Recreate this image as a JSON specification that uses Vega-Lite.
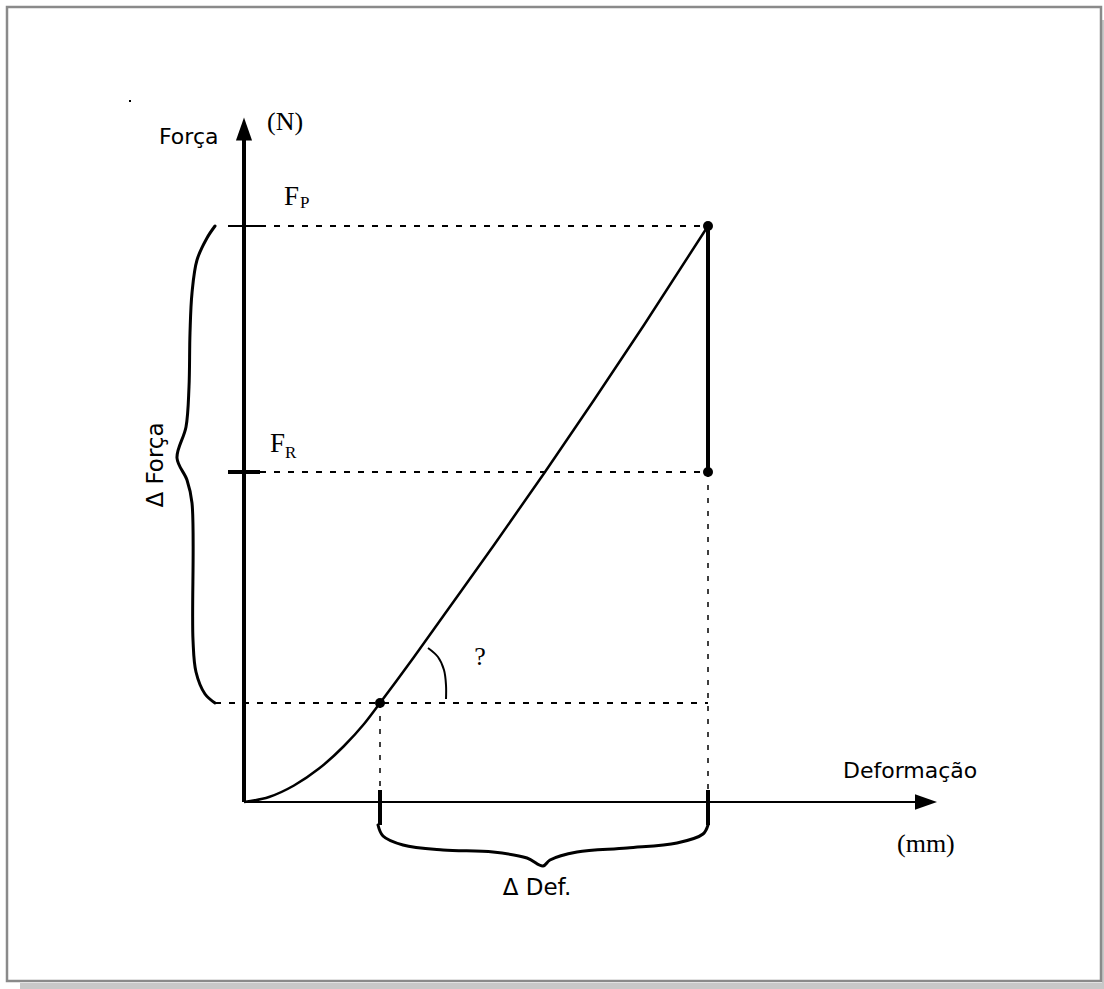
{
  "$schema": "https://vega.github.io/schema/vega-lite/v6.json",
  "width": 1104,
  "height": 989,
  "padding": 0,
  "autosize": {"type": "fit", "contains": "padding"},
  "background": "white",
  "config": {"view": {"stroke": null}},
  "datasets": {
    "shadow": [{"x": -224, "x2": 860, "y": -181, "y2": -187}, {"x": 858, "x2": 860, "y": 782, "y2": -187}],
    "frame": [{"x": -237, "x2": 857, "y": 795, "y2": -179}],
    "dashH": [{"x": 16, "x2": 464, "y": 576, "y2": 576}, {"x": 16, "x2": 464, "y": 330, "y2": 330}, {"x": -29, "x2": 464, "y": 99, "y2": 99}],
    "dashV": [{"x": 136, "x2": 136, "y": 99, "y2": 12}, {"x": 464, "x2": 464, "y": 330, "y2": 12}],
    "thick": [{"x": 0, "x2": 0, "y": 0, "y2": 662}, {"x": -16, "x2": 16, "y": 330, "y2": 330}, {"x": 136, "x2": 136, "y": 12, "y2": -23}, {"x": 464, "x2": 464, "y": 12, "y2": -23}, {"x": 464, "x2": 464, "y": 330, "y2": 576}],
    "thin": [{"x": 0, "x2": 671, "y": 0, "y2": 0}, {"x": -16, "x2": 16, "y": 576, "y2": 576}],
    "curve": [{"x": 0, "y": 0}, {"x": 25, "y": 5}, {"x": 50, "y": 16.5}, {"x": 75, "y": 33.4}, {"x": 100, "y": 56}, {"x": 120, "y": 78}, {"x": 136, "y": 99}, {"x": 170, "y": 145}, {"x": 200, "y": 187}, {"x": 250, "y": 257}, {"x": 301, "y": 330}, {"x": 350, "y": 402}, {"x": 400, "y": 477}, {"x": 464, "y": 576}],
    "braces": [
      {"b": "left", "i": 0, "x": -29, "y": 576}, {"b": "left", "i": 1, "x": -37, "y": 564}, {"b": "left", "i": 2, "x": -47, "y": 542}, {"b": "left", "i": 3, "x": -52, "y": 509}, {"b": "left", "i": 4, "x": -54, "y": 469}, {"b": "left", "i": 5, "x": -55, "y": 415}, {"b": "left", "i": 6, "x": -58, "y": 375}, {"b": "left", "i": 7, "x": -67, "y": 344}, {"b": "left", "i": 8, "x": -57, "y": 322}, {"b": "left", "i": 9, "x": -52, "y": 299}, {"b": "left", "i": 10, "x": -51, "y": 162}, {"b": "left", "i": 11, "x": -48, "y": 130}, {"b": "left", "i": 12, "x": -39, "y": 108}, {"b": "left", "i": 13, "x": -29, "y": 99},
      {"b": "bottom", "i": 0, "x": 134, "y": -23}, {"b": "bottom", "i": 1, "x": 139, "y": -34}, {"b": "bottom", "i": 2, "x": 159, "y": -43}, {"b": "bottom", "i": 3, "x": 199, "y": -48}, {"b": "bottom", "i": 4, "x": 249, "y": -50}, {"b": "bottom", "i": 5, "x": 283, "y": -56}, {"b": "bottom", "i": 6, "x": 299, "y": -64}, {"b": "bottom", "i": 7, "x": 306, "y": -58}, {"b": "bottom", "i": 8, "x": 333, "y": -50}, {"b": "bottom", "i": 9, "x": 383, "y": -46}, {"b": "bottom", "i": 10, "x": 433, "y": -41}, {"b": "bottom", "i": 11, "x": 459, "y": -32}, {"b": "bottom", "i": 12, "x": 464, "y": -23}
    ],
    "arc": [{"i": 0, "x": 184, "y": 154}, {"i": 1, "x": 194, "y": 145}, {"i": 2, "x": 200, "y": 132}, {"i": 3, "x": 202, "y": 117}, {"i": 4, "x": 202, "y": 103}],
    "arrowUp": [{"x": 0, "y": 673}],
    "arrowRight": [{"x": 682, "y": 0}],
    "dots": [{"x": 464, "y": 576}, {"x": 464, "y": 330}, {"x": 136, "y": 99}],
    "speck": [{"x": -114, "y": 701}],
    "sansText": [{"x": -85, "y": 658, "t": "Força"}, {"x": 599, "y": 24, "t": "Deformação"}],
    "defText": [{"x": 293, "y": -93, "t": "Δ Def."}],
    "forcaText": [{"x": -81, "y": 337, "t": "Δ Força"}],
    "unitText": [{"x": 23, "y": 672, "t": "(N)"}, {"x": 653, "y": -50, "t": "(mm)"}],
    "fText": [{"x": 40, "y": 597, "t": "F"}, {"x": 26, "y": 350, "t": "F"}],
    "subText": [{"x": 56, "y": 594, "t": "P"}, {"x": 41, "y": 344, "t": "R"}],
    "qText": [{"x": 236, "y": 137, "t": "?"}]
  },
  "encoding": {
    "x": {"field": "x", "type": "quantitative", "scale": {"domain": [-244, 860], "nice": false, "zero": false}, "axis": null},
    "y": {"field": "y", "type": "quantitative", "scale": {"domain": [-187, 802], "nice": false, "zero": false}, "axis": null}
  },
  "layer": [
    {"data": {"name": "shadow"}, "mark": {"type": "rect", "fill": "#c8c8c8"}, "encoding": {"x2": {"field": "x2"}, "y2": {"field": "y2"}}},
    {"data": {"name": "frame"}, "mark": {"type": "rect", "fill": "white", "stroke": "#8a8a8a", "strokeWidth": 2.5}, "encoding": {"x2": {"field": "x2"}, "y2": {"field": "y2"}}},
    {"data": {"name": "dashH"}, "mark": {"type": "rule", "color": "black", "strokeWidth": 2, "strokeDash": [6, 8]}, "encoding": {"x2": {"field": "x2"}, "y2": {"field": "y2"}}},
    {"data": {"name": "dashV"}, "mark": {"type": "rule", "color": "black", "strokeWidth": 1.5, "strokeDash": [5, 8]}, "encoding": {"x2": {"field": "x2"}, "y2": {"field": "y2"}}},
    {"data": {"name": "thick"}, "mark": {"type": "rule", "color": "black", "strokeWidth": 4}, "encoding": {"x2": {"field": "x2"}, "y2": {"field": "y2"}}},
    {"data": {"name": "thin"}, "mark": {"type": "rule", "color": "black", "strokeWidth": 2}, "encoding": {"x2": {"field": "x2"}, "y2": {"field": "y2"}}},
    {"data": {"name": "curve"}, "mark": {"type": "line", "color": "black", "strokeWidth": 2.5, "interpolate": "monotone"}, "encoding": {}},
    {"data": {"name": "braces"}, "mark": {"type": "line", "color": "black", "strokeWidth": 3, "interpolate": "catmull-rom", "strokeJoin": "round", "strokeCap": "round"}, "encoding": {"detail": {"field": "b"}, "order": {"field": "i", "type": "quantitative"}}},
    {"data": {"name": "arc"}, "mark": {"type": "line", "color": "black", "strokeWidth": 2, "interpolate": "catmull-rom"}, "encoding": {"order": {"field": "i", "type": "quantitative"}}},
    {"data": {"name": "arrowUp"}, "mark": {"type": "point", "shape": "M0,-1L0.7,1L-0.7,1Z", "filled": true, "color": "black", "opacity": 1, "size": 529}},
    {"data": {"name": "arrowRight"}, "mark": {"type": "point", "shape": "M1,0L-1,-0.7L-1,0.7Z", "filled": true, "color": "black", "opacity": 1, "size": 484}},
    {"data": {"name": "dots"}, "mark": {"type": "circle", "color": "black", "opacity": 1, "size": 100}},
    {"data": {"name": "speck"}, "mark": {"type": "square", "color": "black", "opacity": 1, "size": 4}},
    {"data": {"name": "sansText"}, "mark": {"type": "text", "font": "DejaVu Sans", "fontSize": 22, "align": "left", "baseline": "alphabetic", "color": "black"}, "encoding": {"text": {"field": "t"}}},
    {"data": {"name": "defText"}, "mark": {"type": "text", "font": "DejaVu Sans", "fontSize": 23, "align": "center", "baseline": "alphabetic", "color": "black"}, "encoding": {"text": {"field": "t"}}},
    {"data": {"name": "forcaText"}, "mark": {"type": "text", "font": "DejaVu Sans", "fontSize": 23, "align": "center", "baseline": "alphabetic", "angle": 270, "color": "black"}, "encoding": {"text": {"field": "t"}}},
    {"data": {"name": "unitText"}, "mark": {"type": "text", "font": "Liberation Serif", "fontSize": 26, "align": "left", "baseline": "alphabetic", "color": "black"}, "encoding": {"text": {"field": "t"}}},
    {"data": {"name": "fText"}, "mark": {"type": "text", "font": "Liberation Serif", "fontSize": 27, "align": "left", "baseline": "alphabetic", "color": "black"}, "encoding": {"text": {"field": "t"}}},
    {"data": {"name": "subText"}, "mark": {"type": "text", "font": "Liberation Serif", "fontSize": 17, "align": "left", "baseline": "alphabetic", "color": "black"}, "encoding": {"text": {"field": "t"}}},
    {"data": {"name": "qText"}, "mark": {"type": "text", "font": "Liberation Serif", "fontSize": 26, "align": "center", "baseline": "alphabetic", "color": "black"}, "encoding": {"text": {"field": "t"}}}
  ]
}
